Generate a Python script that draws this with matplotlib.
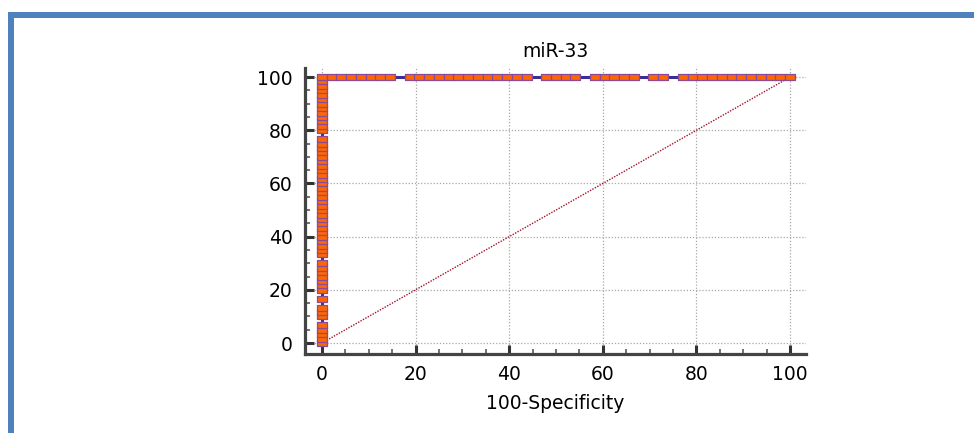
import matplotlib
matplotlib.use("Agg")
import matplotlib.pyplot as plt
from matplotlib.patches import Rectangle
from matplotlib.ticker import MultipleLocator

plt.rcParams['font.family'] = ['DejaVu Sans']

# sensitivity points sitting on the y axis (100-Specificity = 0)
sens_vertical = [0.0, 1.67, 3.33, 5.0, 6.67, 10.0, 11.67, 13.33, 16.67,
                 20.0, 21.67, 23.33, 25.0, 26.67, 28.33, 30.0,
                 33.33, 35.0, 36.67, 38.33, 40.0, 41.67, 43.33, 45.0,
                 46.67, 48.33, 50.0, 51.67, 53.33, 55.0, 56.67, 58.33,
                 60.0, 61.67, 63.33, 65.0, 66.67, 68.33, 70.0, 71.67,
                 73.33, 75.0, 76.67,
                 80.0, 81.67, 83.33, 85.0, 86.67, 88.33, 90.0, 91.67,
                 93.33, 95.0, 96.67, 98.33, 100.0]

# 100-Specificity points along sensitivity = 100
fpr_top = [2.08, 4.17, 6.25, 8.33, 10.42, 12.5, 14.58,
           18.75, 20.83, 22.92, 25.0, 27.08, 29.17, 31.25, 33.33, 35.42,
           37.5, 39.58, 41.67, 43.75,
           47.92, 50.0, 52.08, 54.17,
           58.33, 60.42, 62.5, 64.58, 66.67,
           70.83, 72.92,
           77.08, 79.17, 81.25, 83.33, 85.42, 87.5, 89.58, 91.67, 93.75,
           95.83, 97.92, 100.0]

diag = [0, 100]
ticks = [0, 20, 40, 60, 80, 100]

roc_x = [0.0] * len(sens_vertical) + fpr_top
roc_y = sens_vertical + [100.0] * len(fpr_top)

W, H = 974, 433
fig = plt.figure(figsize=(W / 100, H / 100), dpi=100)
ax = fig.add_axes([305 / W, 1 - 354 / H, (806 - 305) / W, (354 - 68) / H])

# blue frame of the slide
blue = '#4F81BD'
fig.add_artist(Rectangle((8 / W, 1 - 18 / H), 1 - 8 / W, 6 / H,
                         transform=fig.transFigure, color=blue, lw=0))
fig.add_artist(Rectangle((8 / W, 0), 6 / W, 1 - 12 / H,
                         transform=fig.transFigure, color=blue, lw=0))

ax.plot(diag, diag, color='#A3122A', lw=1.0, ls=(0, (1, 1)), zorder=2)

rect = [(-1, -0.52), (1, -0.52), (1, 0.52), (-1, 0.52), (-1, -0.52)]
ax.plot(roc_x, roc_y, color='#3B2F94', lw=2.2, marker=rect, ms=7.4,
        mfc='#FF6600', mec='#8A4A98', mew=0.9, clip_on=False, zorder=3)

ax.set_xlim(-3.6, 103.4)
ax.set_ylim(-4.1, 103.4)
ax.set_xticks(ticks)
ax.set_yticks(ticks)
ax.xaxis.set_minor_locator(MultipleLocator(5))
ax.yaxis.set_minor_locator(MultipleLocator(5))

ax.grid(True, which='major', color='#A8A8A8', ls=(0, (1, 1.5)), lw=0.9)
ax.set_axisbelow(True)

for s in ['top', 'right']:
    ax.spines[s].set_visible(False)
for s in ['left', 'bottom']:
    ax.spines[s].set_linewidth(2.3)
    ax.spines[s].set_color('#444444')

ax.tick_params(which='major', direction='in', length=6.5, width=2.2,
               color='#333333', labelsize=13.5, labelcolor='black')
ax.tick_params(which='minor', direction='in', length=3.8, width=1.3,
               color='#666666')
ax.tick_params(axis='x', which='major', pad=8)
ax.tick_params(axis='y', which='major', pad=9)

ax.set_title('miR-33', fontsize=13.5, pad=8)
ax.set_xlabel('100-Specificity', fontsize=13.5, labelpad=7)

fig.savefig('out.png', dpi=100)
